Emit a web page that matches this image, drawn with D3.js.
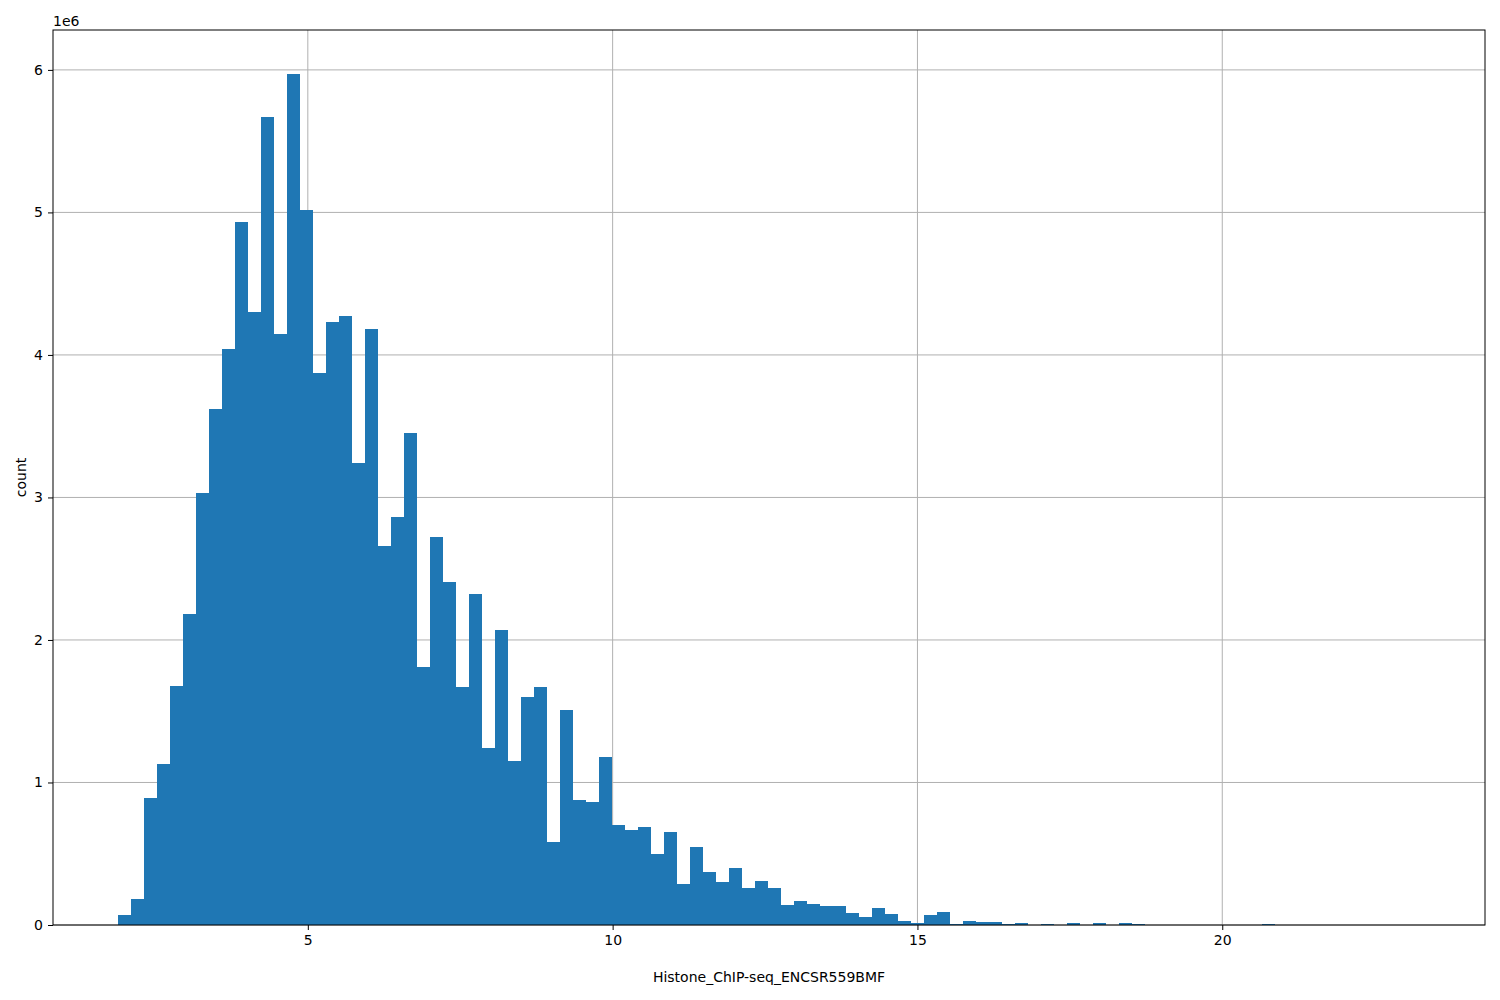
<!DOCTYPE html>
<html>
<head>
<meta charset="utf-8">
<script src="https://cdn.jsdelivr.net/npm/d3@7"></script>
<style>
body { margin: 0; background: #fff; }
text { font-family: "DejaVu Sans", sans-serif; }
</style>
</head>
<body>
<svg width="1500" height="1000"></svg>
<script>
// histogram: bins start at binStart, each binWidth wide; counts in millions
const binStart = 1.885
const binWidth = 0.2133
const counts = [
    0.07, 0.18, 0.89, 1.13, 1.68, 2.18, 3.03, 3.62, 4.04, 4.93,
    4.30, 5.67, 4.15, 5.97, 5.02, 3.87, 4.23, 4.27, 3.24, 4.18,
    2.66, 2.86, 3.45, 1.81, 2.72, 2.41, 1.67, 2.32, 1.24, 2.07,
    1.15, 1.60, 1.67, 0.58, 1.51, 0.88, 0.86, 1.18, 0.70, 0.67,
    0.69, 0.50, 0.65, 0.29, 0.55, 0.37, 0.30, 0.40, 0.26, 0.31,
    0.26, 0.14, 0.17, 0.145, 0.13, 0.13, 0.085, 0.056, 0.12, 0.077,
    0.028, 0.014, 0.07, 0.091, 0.007, 0.028, 0.021, 0.021, 0.007, 0.014,
    0, 0.007, 0, 0.014, 0, 0.014, 0, 0.014, 0.007, 0,
    0, 0, 0, 0, 0, 0, 0, 0, 0.007, 0,
    0, 0, 0, 0, 0, 0, 0, 0, 0, 0.0005
]
const xTicks = [5, 10, 15, 20]
const yTicks = [0, 1, 2, 3, 4, 5, 6]

const svg = d3.select('svg')
const m = { left: 53, right: 1485, top: 30, bottom: 925 }

const x = d3.scaleLinear().domain([0.82, 24.31]).range([m.left, m.right])
const y = d3.scaleLinear().domain([0, 6.28]).range([m.bottom, m.top])

// grid
svg.append('g').selectAll('line').data(xTicks).enter().append('line')
    .attr('x1', d => x(d)).attr('x2', d => x(d))
    .attr('y1', m.top).attr('y2', m.bottom)
    .style('stroke', '#b0b0b0').style('stroke-width', 1)
svg.append('g').selectAll('line').data(yTicks).enter().append('line')
    .attr('x1', m.left).attr('x2', m.right)
    .attr('y1', d => y(d)).attr('y2', d => y(d))
    .style('stroke', '#b0b0b0').style('stroke-width', 1)

// bars
svg.append('g').selectAll('rect').data(counts).enter().append('rect')
    .attr('x', (d, i) => x(binStart + i * binWidth))
    .attr('width', x(binStart + binWidth) - x(binStart))
    .attr('y', d => y(d))
    .attr('height', d => y(0) - y(d))
    .style('fill', '#1f77b4')
    .style('shape-rendering', 'crispEdges')

// axes
const xAxis = svg.append('g').attr('transform', `translate(0,${m.bottom})`)
    .call(d3.axisBottom(x).tickValues(xTicks).tickSize(5).tickPadding(5).tickFormat(d3.format('d')))
const yAxis = svg.append('g').attr('transform', `translate(${m.left},0)`)
    .call(d3.axisLeft(y).tickValues(yTicks).tickSize(5).tickPadding(5).tickFormat(d3.format('d')))
xAxis.select('.domain').remove()
yAxis.select('.domain').remove()
svg.selectAll('.tick text').style('font-size', '14px').style('font-family', 'DejaVu Sans').attr('fill', '#000')

svg.append('rect')
    .attr('x', m.left).attr('y', m.top)
    .attr('width', m.right - m.left).attr('height', m.bottom - m.top)
    .style('fill', 'none').style('stroke', '#000').style('stroke-width', 1)

svg.append('text').attr('x', m.left).attr('y', 26).text('1e6').style('font-size', '14px')
svg.append('text').attr('x', (m.left + m.right) / 2).attr('y', 982)
    .attr('text-anchor', 'middle').style('font-size', '14px').text('Histone_ChIP-seq_ENCSR559BMF')
svg.append('text').attr('transform', `translate(26,${(m.top + m.bottom) / 2}) rotate(-90)`)
    .attr('text-anchor', 'middle').style('font-size', '14px').text('count')
</script>
</body>
</html>
